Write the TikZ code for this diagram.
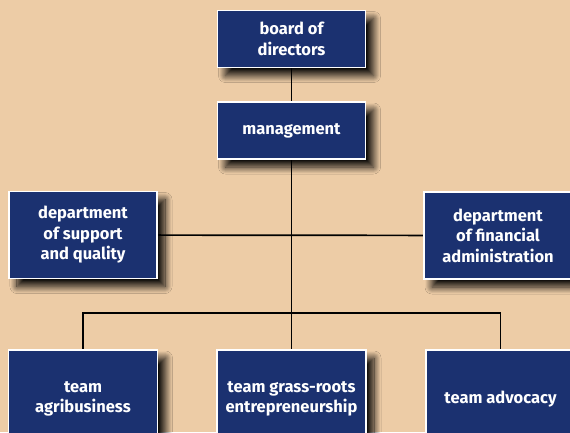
\documentclass[tikz,border=0pt]{standalone}
\usepackage{fontspec}
\setsansfont{Fira Sans}
\usetikzlibrary{positioning,shadows.blur,backgrounds}

\definecolor{sand}{RGB}{237,204,166}
\definecolor{navy}{RGB}{27,49,112}

\tikzset{
  unit/.style={draw=white, line width=1.5pt, fill=navy, text=white,
    font=\sffamily\bfseries\fontsize{16.5}{20.5}\selectfont, align=center,
    inner sep=0pt,
    blur shadow={shadow xshift=8pt, shadow yshift=-8pt,
      shadow blur radius=7pt, shadow blur steps=14, shadow opacity=95}},
  small/.style={unit, minimum width=148pt, minimum height=57pt},
  dept/.style={unit, minimum width=148pt, minimum height=87pt},
  team/.style={unit, minimum width=149pt, minimum height=98pt},
  link/.style={line width=1.7pt, black}
}

\begin{document}
\begin{tikzpicture}[x=1pt,y=1pt,node distance=33pt]

  \clip (0,0) rectangle (570,-432);

  \node[small] (board) at (291.5,-39) {board of\\directors};
  \node[small] (mgmt) [below=of board] {management};

  \node[dept] (support) at (83,-235) {department\\of support\\and quality};
  \node[dept] (finance) at (498,-235.5) {department\\of financial\\administration};

  \node[team] (agri) at (83,-399) {team\\agribusiness};
  \node[team] (grass) at (291.5,-399) {team grass-roots\\entrepreneurship};
  \node[team] (advocacy) at (500.5,-399) {team advocacy};

  % junction where the teams branch off
  \coordinate (bar) at (291.5,-313);

  \begin{scope}[on background layer]
    \fill[sand] (0,0) rectangle (570,-432);
    \draw[link] (board) -- (mgmt);
    \draw[link] (mgmt) -- (bar);
    \draw[link] (support) -- (finance);
    \draw[link] (bar) -- (grass);
    \draw[link] (agri.north) |- (bar) -| (advocacy.north);
  \end{scope}

\end{tikzpicture}
\end{document}
